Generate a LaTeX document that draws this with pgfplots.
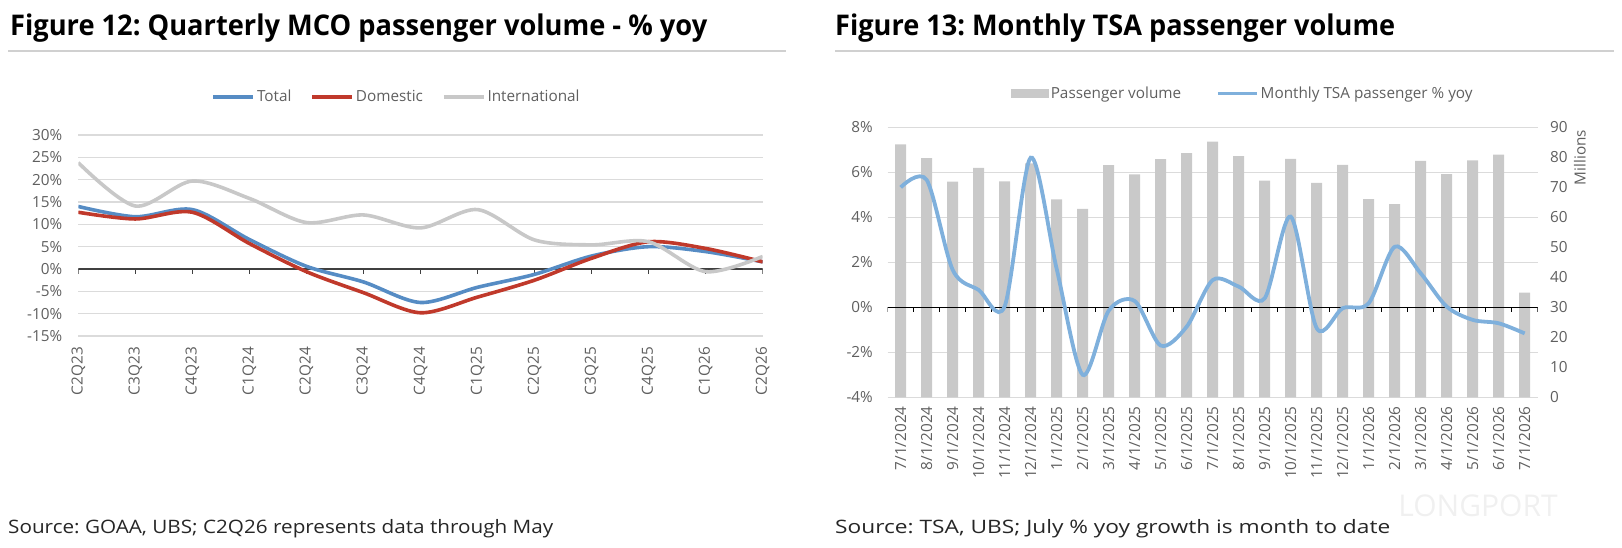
\documentclass[border=0pt]{standalone}
\usepackage{pgfplots}
\pgfplotsset{compat=1.18}
\usepackage{fontspec}
\setmainfont{Open Sans}
\usepackage{graphicx}
\definecolor{totalblue}{RGB}{86,140,196}
\definecolor{domred}{RGB}{192,57,43}
\definecolor{intgray}{RGB}{200,200,200}
\definecolor{tsablue}{RGB}{127,176,220}
\definecolor{bargray}{RGB}{201,201,201}
\definecolor{gridgray}{RGB}{219,219,219}
\definecolor{labgray}{RGB}{95,95,95}
\definecolor{rulegray}{RGB}{208,208,208}
\newcommand\tickfont{\fontsize{15.3}{18}\selectfont}
\begin{document}
\frenchspacing
\begin{tikzpicture}
\useasboundingbox (0pt,0pt) rectangle (1622pt,548pt);
% titles
\node[anchor=base west, inner sep=0pt, text=black] at (10pt,512pt) {\resizebox{697pt}{\height}{\fontsize{28.5}{32}\selectfont\bfseries Figure 12: Quarterly MCO passenger volume - \% yoy}};
\draw[rulegray, line width=1.3pt] (8pt,497pt) -- (786pt,497pt);
\node[anchor=base west, inner sep=0pt, text=black] at (835pt,512pt) {\resizebox{560pt}{\height}{\fontsize{28.5}{32}\selectfont\bfseries Figure 13: Monthly TSA passenger volume}};
\draw[rulegray, line width=1.3pt] (835pt,497pt) -- (1614pt,497pt);
% footers
\node[anchor=base west, inner sep=0pt, text=black!85] at (8pt,14pt) {\resizebox{545pt}{\height}{\fontsize{18.5}{20}\selectfont Source: GOAA, UBS; C2Q26 represents data through May}};
\node[anchor=base west, inner sep=0pt, text=black!85] at (835pt,14pt) {\resizebox{555pt}{\height}{\fontsize{18.5}{20}\selectfont Source: TSA, UBS; July \% yoy growth is month to date}};
\node[anchor=center, inner sep=0pt, text=black!6] at (1478pt,42pt) {\fontsize{30}{30}\selectfont LONGPORT};

% ---------------- left chart ----------------
\begin{axis}[
  at={(78.3pt,212pt)}, anchor=south west, scale only axis,
  width=684.4pt, height=201pt,
  xmin=0, xmax=12, ymin=-15, ymax=30, enlargelimits=false,
  axis line style={draw=none}, major tick length=0pt,
  ytick={-15,-10,...,30},
  yticklabels={-15\%,-10\%,-5\%,0\%,5\%,10\%,15\%,20\%,25\%,30\%},
  xtick={0,...,12},
  xticklabels={C2Q23,C3Q23,C4Q23,C1Q24,C2Q24,C3Q24,C4Q24,C1Q25,C2Q25,C3Q25,C4Q25,C1Q26,C2Q26},
  ymajorgrids, grid style={gridgray, line width=1.2pt},
  tick label style={font=\tickfont, text=labgray},
  yticklabel style={anchor=east, inner sep=0pt, xshift=-16pt},
  xticklabel style={yshift=-11pt, rotate=90, anchor=east, inner sep=0pt},
  legend columns=3,
  legend style={draw=none, fill=none, at={(axis description cs:0.465,1.19)}, anchor=center,
    font=\tickfont, text=labgray, /tikz/every even column/.append style={column sep=17pt}},
  legend cell align=left,
  legend image code/.code={\draw[#1, line width=3.5pt] (0pt,0pt) -- (40pt,0pt);},
]
\draw[black!75, line width=1.5pt] (axis cs:0,0) -- (axis cs:12,0);
\pgfplotsinvokeforeach{0,...,12}{\draw[black!75, line width=1.3pt] (axis cs:#1,0) -- ++(0pt,-5pt);}
\addplot[totalblue, line width=3.6pt, smooth] coordinates {
(0,14.0) (1,11.7) (2,13.3) (3,6.6) (4,0.6) (5,-2.9) (6,-7.5) (7,-4.1) (8,-1.2) (9,2.9) (10,5.0) (11,3.9) (12,1.6)};
\addlegendentry{Total}
\addplot[domred, line width=3.6pt, smooth] coordinates {
(0,12.7) (1,11.2) (2,12.7) (3,5.7) (4,-0.6) (5,-5.3) (6,-9.8) (7,-6.3) (8,-2.5) (9,2.4) (10,6.1) (11,4.6) (12,1.6)};
\addlegendentry{Domestic}
\addplot[intgray, line width=3.6pt, smooth] coordinates {
(0,23.8) (1,14.1) (2,19.7) (3,15.8) (4,10.4) (5,12.1) (6,9.2) (7,13.3) (8,6.5) (9,5.4) (10,6.1) (11,-0.6) (12,2.8)};
\addlegendentry{International}
\end{axis}

% ---------------- right chart: percent grid and labels ----------------
\begin{axis}[
  at={(887.7pt,150.7pt)}, anchor=south west, scale only axis,
  width=650pt, height=270pt,
  xmin=-0.5, xmax=24.5, ymin=-4, ymax=8, enlargelimits=false,
  axis line style={draw=none}, major tick length=0pt,
  ytick={-4,-2,...,8},
  yticklabels={-4\%,-2\%,0\%,2\%,4\%,6\%,8\%},
  xtick={0,...,24},
  xticklabels={7/1/2024,8/1/2024,9/1/2024,10/1/2024,11/1/2024,12/1/2024,1/1/2025,2/1/2025,3/1/2025,4/1/2025,5/1/2025,6/1/2025,7/1/2025,8/1/2025,9/1/2025,10/1/2025,11/1/2025,12/1/2025,1/1/2026,2/1/2026,3/1/2026,4/1/2026,5/1/2026,6/1/2026,7/1/2026},
  ymajorgrids, grid style={gridgray, line width=1.2pt},
  tick label style={font=\tickfont, text=labgray},
  yticklabel style={anchor=east, inner sep=0pt, xshift=-14.7pt},
  xticklabel style={yshift=-9pt, rotate=90, anchor=east, inner sep=0pt},
]
\end{axis}

% bars (right axis, millions)
\begin{axis}[
  at={(887.7pt,150.7pt)}, anchor=south west, scale only axis,
  width=650pt, height=270pt,
  xmin=-0.5, xmax=24.5, ymin=0, ymax=90, enlargelimits=false,
  axis line style={draw=none}, major tick length=0pt,
  xtick=\empty,
  ytick={0,10,...,90}, yticklabels={0,10,20,30,40,50,60,70,80,90},
  yticklabel pos=right,
  tick label style={font=\tickfont, text=labgray},
  yticklabel style={anchor=west, inner sep=0pt, xshift=12.3pt},
  ylabel={Millions},
  every axis y label/.style={at={(axis description cs:1.065,0.888)}, rotate=90, anchor=center, font=\tickfont, text=labgray},
  ybar, bar width=11pt,
]
\addplot[fill=bargray, draw=none] coordinates {
(0,84.3) (1,79.7) (2,71.9) (3,76.5) (4,72.0) (5,78.0) (6,66.0) (7,62.8) (8,77.4) (9,74.3)
(10,79.4) (11,81.4) (12,85.2) (13,80.4) (14,72.2) (15,79.5) (16,71.5) (17,77.5) (18,66.1) (19,64.4)
(20,78.8) (21,74.4) (22,79.0) (23,80.9) (24,34.9)};
\end{axis}

% line (percent)
\begin{axis}[
  at={(887.7pt,150.7pt)}, anchor=south west, scale only axis,
  width=650pt, height=270pt,
  xmin=-0.5, xmax=24.5, ymin=-4, ymax=8, enlargelimits=false,
  hide axis,
  legend columns=2,
  legend style={draw=none, fill=none, at={(axis description cs:0.5466,1.126)}, anchor=center,
    font=\tickfont, text=labgray, /tikz/every even column/.append style={column sep=33pt}},
  legend cell align=left,
  legend image code/.code={\draw[#1, line width=3.5pt] (0pt,0pt) -- (39pt,0pt);},
]
\draw[black, line width=1.5pt] (axis cs:-0.5,0) -- (axis cs:24.5,0);
\pgfplotsinvokeforeach{-0.5,0.5,...,24.5}{\draw[black, line width=1.3pt] (axis cs:#1,0) -- ++(0pt,-5pt);}
\addlegendimage{legend image code/.code={\fill[bargray] (0pt,-3.7pt) rectangle (37pt,3.7pt);}}
\addlegendentry{Passenger volume}
\addplot[tsablue, line width=3.8pt, smooth] coordinates {
(0,5.33) (1,5.66) (2,1.66) (3,0.77) (4,0.05) (5,6.65) (6,1.7) (7,-3.0) (8,-0.15) (9,0.28)
(10,-1.7) (11,-0.86) (12,1.21) (13,0.92) (14,0.4) (15,4.03) (16,-0.93) (17,-0.04) (18,0.18) (19,2.69)
(20,1.51) (21,0.03) (22,-0.56) (23,-0.71) (24,-1.16)};
\addlegendentry{Monthly TSA passenger \% yoy}
\end{axis}
\end{tikzpicture}
\end{document}
